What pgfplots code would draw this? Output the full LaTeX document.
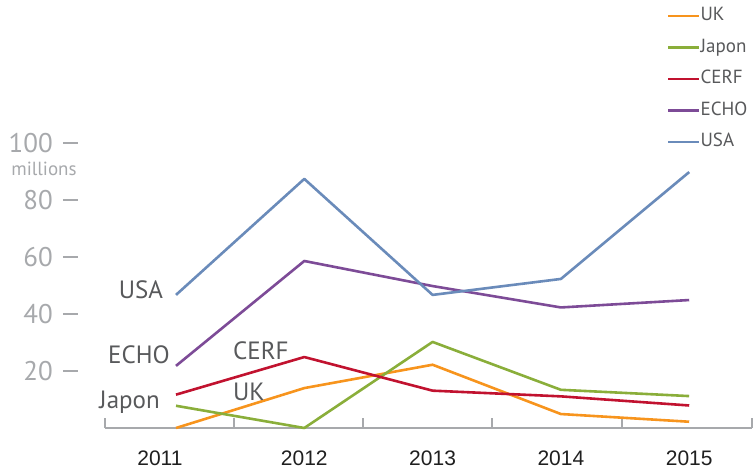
\documentclass[border=0pt]{standalone}
\usepackage{pgfplots}
\pgfplotsset{compat=1.18}
\usepackage{fontspec}
\setmainfont{PT Sans}
\newfontfamily\arialfont{Liberation Sans}
\definecolor{cUK}{HTML}{F7941D}
\definecolor{cJP}{HTML}{8AAE3A}
\definecolor{cCERF}{HTML}{C1122F}
\definecolor{cECHO}{HTML}{7D4B97}
\definecolor{cUSA}{HTML}{6A8BBA}
\definecolor{axgray}{HTML}{A7A9AC}
\definecolor{txtgray}{HTML}{58595B}
\begin{document}
\begin{tikzpicture}
\useasboundingbox (-105pt,-44pt) rectangle (651pt,428pt);
\begin{axis}[
  at={(0pt,0pt)}, anchor=south west,
  scale only axis, width=647pt, height=285pt,
  xmin=-0.5534, xmax=4.4895, ymin=0, ymax=100,
  clip=false,
  axis x line*=bottom, axis y line*=left,
  y axis line style={draw=none},
  x axis line style={axgray, line width=1.6pt, -},
  xtick={-0.125,1,2,3,4},
  xticklabels={2011,2012,2013,2014,2015},
  major x tick style={draw=none},
  minor xtick={-0.553,0.452,1.458,2.463,3.476,4.489},
  minor x tick style={axgray, line width=1.6pt},
  minor tick length=10pt,
  tick align=inside,
  xticklabel style={anchor=north, inner sep=0pt, yshift=-23pt, text=black!88, font=\arialfont\fontsize{21}{24}\selectfont},
  ytick={20,40,60,80,100},
  y tick style={draw=none},
  /pgf/number format/assume math mode=true,
  yticklabel={\pgfmathprintnumber{\tick}\hspace{10pt}\textcolor{axgray}{\rule[8.6pt]{15pt}{1.4pt}}},
  yticklabel style={anchor=east, inner sep=0pt, xshift=-27pt, text=axgray, font=\fontsize{27}{30}\selectfont},
  legend style={at={(axis description cs:0.8686,1.4754)}, anchor=north west, draw=none, fill=none,
    inner sep=0pt, outer sep=0pt, row sep=14.5pt,
    font=\fontsize{19}{21}\selectfont, text=txtgray,
    nodes={inner sep=0pt, text height=13pt, text depth=4pt},
    /tikz/every even column/.append style={column sep=7pt}},
  legend cell align=left,
  legend image code/.code={\draw[#1, line width=2.6pt] (0pt,0pt) -- (31pt,0pt);},
  every axis plot/.append style={line width=2.6pt, line join=round},
]
\addplot[cUK] coordinates {(0,0) (1,14) (2,22.2) (3,4.9) (4,2.2)};
\addlegendentry{UK}
\addplot[cJP] coordinates {(0,7.8) (1,0) (2,30.2) (3,13.4) (4,11.2)};
\addlegendentry{Japon}
\addplot[cCERF] coordinates {(0,11.7) (1,24.9) (2,13.1) (3,11.1) (4,7.9)};
\addlegendentry{CERF}
\addplot[cECHO] coordinates {(0,21.8) (1,58.6) (2,49.8) (3,42.3) (4,44.9)};
\addlegendentry{ECHO}
\addplot[cUSA] coordinates {(0,46.7) (1,87.4) (2,46.7) (3,52.3) (4,89.8)};
\addlegendentry{USA}
\begin{scope}[every node/.style={font=\fontsize{25}{28}\selectfont, text=txtgray, inner sep=0pt}]
\node[anchor=base east] at (axis cs:-0.10,45.3) {USA};
\node[anchor=base east] at (axis cs:-0.047,22.5) {ECHO};
\node[anchor=base east] at (axis cs:-0.125,6.7) {Japon};
\node[anchor=base west] at (axis cs:0.444,24.2) {CERF};
\node[anchor=base west] at (axis cs:0.444,9.8) {UK};
\end{scope}
\node[font=\fontsize{19}{21}\selectfont, text=axgray, inner sep=0pt] at (axis cs:-1.029,90.9) {millions};
\end{axis}
\end{tikzpicture}
\end{document}
